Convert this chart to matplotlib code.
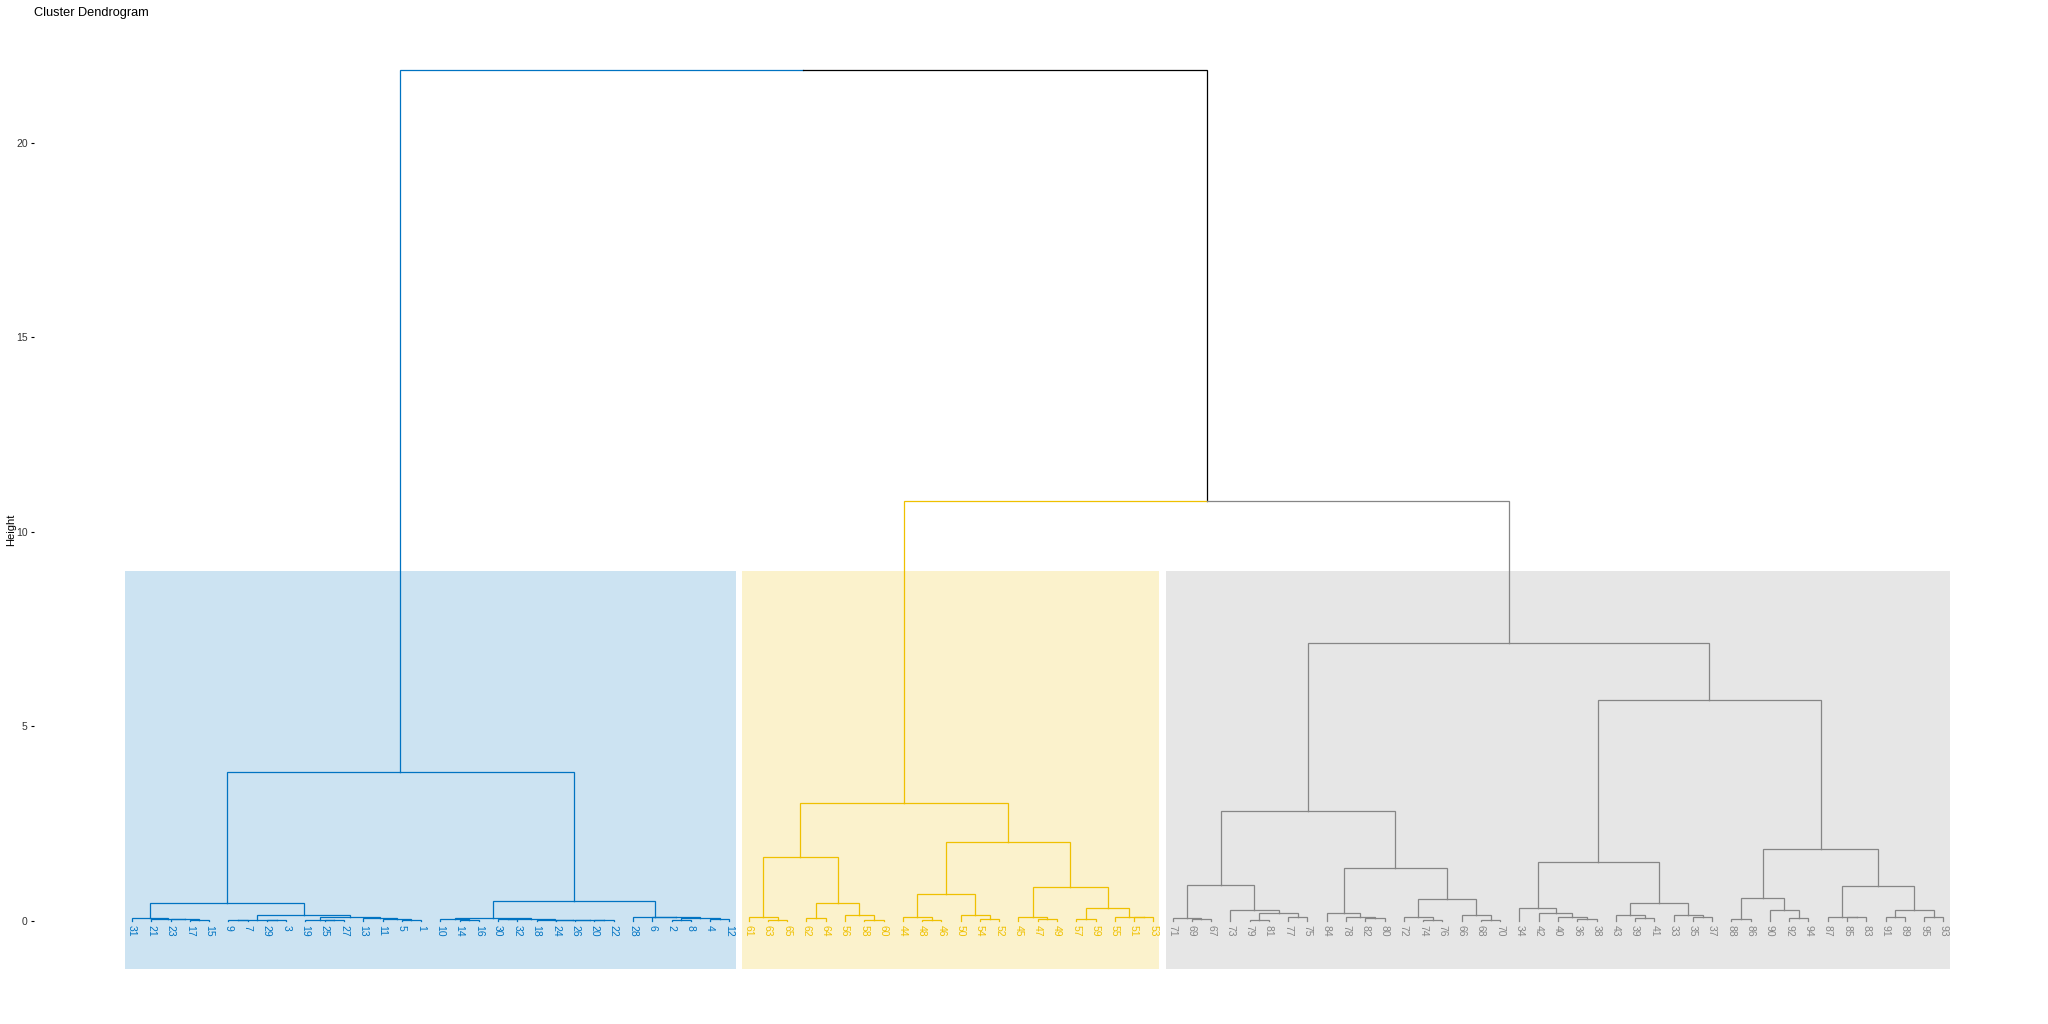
import matplotlib
matplotlib.use("Agg")
import matplotlib.pyplot as plt
from matplotlib.patches import Rectangle

plt.rcParams["font.family"] = ["Liberation Sans", "DejaVu Sans"]

# Tree as nested tuples: (merge height, left, right); ints are leaf labels
BLUE_TREE = (3.83,
    (0.47,
        (0.06, 31, (0.05, 21, (0.035, 23, (0.03, 17, 15)))),
        (0.15,
            (0.03, (0.01, 9, 7), (0.025, 29, 3)),
            (0.09, (0.03, 19, (0.02, 25, 27)),
                   (0.08, 13, (0.05, 11, (0.03, 5, 1)))))),
    (0.52,
        (0.06, (0.05, 10, (0.03, 14, 16)),
               (0.05, (0.04, 30, 32), (0.025, 18, (0.02, 24, (0.015, 26, (0.01, 20, 22)))))),
        (0.09, 28, (0.085, 6, (0.075, (0.01, 2, 8), (0.05, 4, 12))))))

YELLOW_TREE = (3.02,
    (1.63,
        (0.11, 61, (0.03, 63, 65)),
        (0.45, (0.06, 62, 64), (0.16, 56, (0.03, 58, 60)))),
    (2.03,
        (0.68, (0.09, 44, (0.03, 48, 46)), (0.14, 50, (0.05, 54, 52))),
        (0.86, (0.11, 45, (0.05, 47, 49)),
               (0.34, (0.05, 57, 59), (0.11, 55, (0.09, 51, 53))))))

GREY_TREE = (7.15,
    (2.82,
        (0.92, (0.06, 71, (0.04, 69, 67)),
               (0.29, 73, (0.19, (0.03, 79, 81), (0.09, 77, 75)))),
        (1.35, (0.19, 84, (0.09, 78, (0.08, 82, 80))),
               (0.55, (0.09, 72, (0.03, 74, 76)), (0.16, 66, (0.03, 68, 70))))),
    (5.67,
        (1.50, (0.32, 34, (0.21, 42, (0.11, 40, (0.05, 36, 38)))),
               (0.45, (0.14, 43, (0.06, 39, 41)), (0.16, 33, (0.09, 35, 37)))),
        (1.84, (0.58, (0.04, 88, 86), (0.27, 90, (0.06, 92, 94))),
               (0.89, (0.11, 87, (0.09, 85, 83)),
                      (0.29, (0.09, 91, 89), (0.11, 95, 93))))))

TOP_HEIGHT = 21.88
MID_HEIGHT = 10.8
CLUSTER_COLORS = ["#0073C2", "#EFC000", "#868686"]
Y_TICKS = [0, 5, 10, 15, 20]
RECT_TOP = 9.0
RECT_BOTTOM = -1.24

root = (TOP_HEIGHT, BLUE_TREE, (MID_HEIGHT, YELLOW_TREE, GREY_TREE))


def leaves(node):
    if isinstance(node, int):
        return [node]
    return leaves(node[1]) + leaves(node[2])


order = leaves(root)
xpos = {lab: i + 1 for i, lab in enumerate(order)}
color_of = {}
for tree, col in zip([BLUE_TREE, YELLOW_TREE, GREY_TREE], CLUSTER_COLORS):
    for lab in leaves(tree):
        color_of[lab] = col


def layout(node):
    """Return (x, height) of node."""
    if isinstance(node, int):
        return xpos[node], 0.0
    xl, _ = layout(node[1])
    xr, _ = layout(node[2])
    return (xl + xr) / 2, node[0]


def node_color(node):
    cols = {color_of[l] for l in leaves(node)}
    return cols.pop() if len(cols) == 1 else "black"


fig = plt.figure(figsize=(20.48, 10.24), dpi=100)
ax = fig.add_axes([34 / 2048, 1 - 1000 / 1024, (2040 - 34) / 2048, (1000 - 35) / 1024])
x_per_px = 1 / 19.27
ax.set_xlim(1 - (132 - 34) * x_per_px, 1 + (2040 - 132) * x_per_px)
ax.set_ylim((920.8 - 1000) / 38.9, (920.8 - 35) / 38.9)

# cluster rectangles
for tree, col in zip([BLUE_TREE, YELLOW_TREE, GREY_TREE], CLUSTER_COLORS):
    labs = leaves(tree)
    x0 = xpos[labs[0]] - 0.35
    x1 = xpos[labs[-1]] + 0.32
    ax.add_patch(Rectangle((x0, RECT_BOTTOM), x1 - x0, RECT_TOP - RECT_BOTTOM,
                           facecolor=col, alpha=0.2, edgecolor="none", zorder=0))


def draw(node):
    if isinstance(node, int):
        return
    x, h = layout(node)
    for child in node[1:]:
        cx, ch = layout(child)
        col = node_color(child)
        ax.plot([x, cx, cx], [h, h, ch], color=col, linewidth=0.9,
                solid_joinstyle="miter", zorder=2)
        draw(child)


draw(root)

for lab in order:
    ax.text(xpos[lab], -0.11, str(lab), rotation=270, ha="center", va="top",
            fontsize=7.5, color=color_of[lab])

for s in ax.spines.values():
    s.set_visible(False)
ax.set_xticks([])
ax.set_yticks(Y_TICKS)
ax.tick_params(axis="y", length=2.5, width=0.8, labelsize=7.5, labelcolor="#333333", pad=2)

fig.text(34 / 2048, 1 - 13 / 1024, "Cluster Dendrogram", fontsize=9.2, ha="left", va="center")
fig.text(11 / 2048, 1 - 530 / 1024, "Height", fontsize=8, rotation=90, ha="center", va="center")

fig.savefig("out.png", dpi=100)
